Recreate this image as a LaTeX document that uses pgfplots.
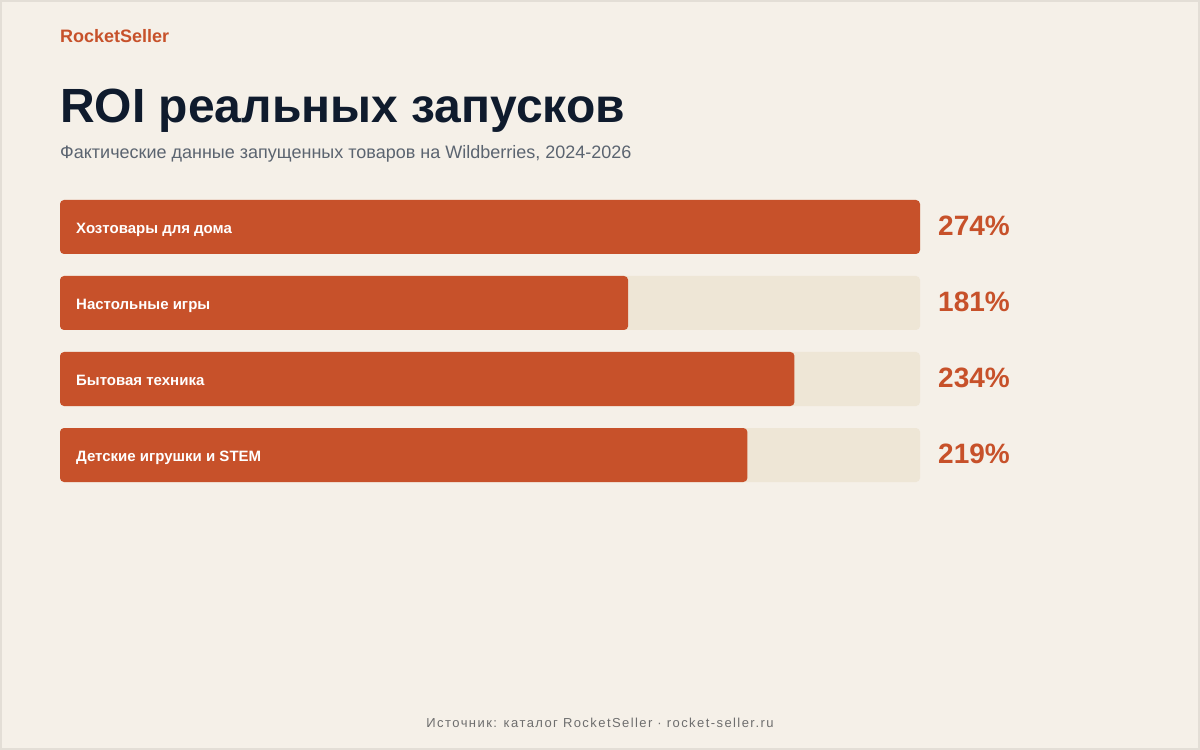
\documentclass[border=0pt]{standalone}
\usepackage{fontspec}
\setmainfont{Liberation Sans}
\usepackage{pgfplots}
\pgfplotsset{compat=1.18}
\usepackage{pgfplotstable}
\definecolor{bg}{HTML}{F5F0E8}
\definecolor{framec}{HTML}{E3DED6}
\definecolor{accent}{HTML}{C7512A}
\definecolor{track}{HTML}{EEE6D6}
\definecolor{titlec}{HTML}{0F1B2D}
\definecolor{subc}{HTML}{5B6470}
\definecolor{footc}{HTML}{6E6E6E}

\pgfplotstableread[col sep=comma]{
y,v,label
227,274,Хозтовары для дома
303,181,Настольные игры
379,234,Бытовая техника
455,219,Детские игрушки и STEM
}\roi

\begin{document}
\begin{tikzpicture}
\fill[bg] (0,0) rectangle (1200pt,750pt);
\draw[framec, line width=2pt] (1pt,1pt) rectangle (1199pt,749pt);
\node[anchor=base west, inner sep=0pt, text=accent, font=\fontsize{18}{22}\selectfont\bfseries] at (60pt,707pt) {RocketSeller};
\node[anchor=base west, inner sep=0pt, text=titlec, font=\fontsize{48}{56}\selectfont\bfseries] at (60pt,627pt) {ROI реальных запусков};
\node[anchor=base west, inner sep=0pt, text=subc, font=\fontsize{18}{22}\selectfont] at (60pt,591pt) {Фактические данные запущенных товаров на Wildberries, 2024-2026};
\begin{axis}[at={(60pt,258pt)}, anchor=south west, scale only axis,
  width=860pt, height=302pt, xmin=0, xmax=274, ymin=190, ymax=492,
  y dir=reverse, hide axis, clip=false]
\addplot[xbar, bar shift=0pt, bar width=54pt, fill=track, draw=none, rounded corners=4pt]
  table[x expr=274, y=y]{\roi};
\addplot[xbar, bar shift=0pt, bar width=54pt, fill=accent, draw=none, rounded corners=4pt]
  table[x=v, y=y]{\roi};
\addplot[draw=none, mark=none, point meta=explicit symbolic,
  nodes near coords={\pgfplotspointmeta},
  nodes near coords style={anchor=base west, inner sep=0pt, xshift=16pt, yshift=-6.5pt, text=white, font=\fontsize{15}{18}\selectfont\bfseries}]
  table[x expr=0, y=y, meta=label]{\roi};
\addplot[draw=none, mark=none, point meta=explicit symbolic,
  nodes near coords={\pgfplotspointmeta\%},
  nodes near coords style={anchor=base west, inner sep=0pt, xshift=18pt, yshift=-8.5pt, text=accent, font=\fontsize{28}{32}\selectfont\bfseries}]
  table[x expr=274, y=y, meta=v]{\roi};
\end{axis}
\node[anchor=base, inner sep=0pt, text=footc, font=\fontsize{13}{16}\selectfont\addfontfeature{LetterSpace=11}] at (600pt,22pt) {Источник: каталог RocketSeller · rocket-seller.ru};
\end{tikzpicture}
\end{document}
